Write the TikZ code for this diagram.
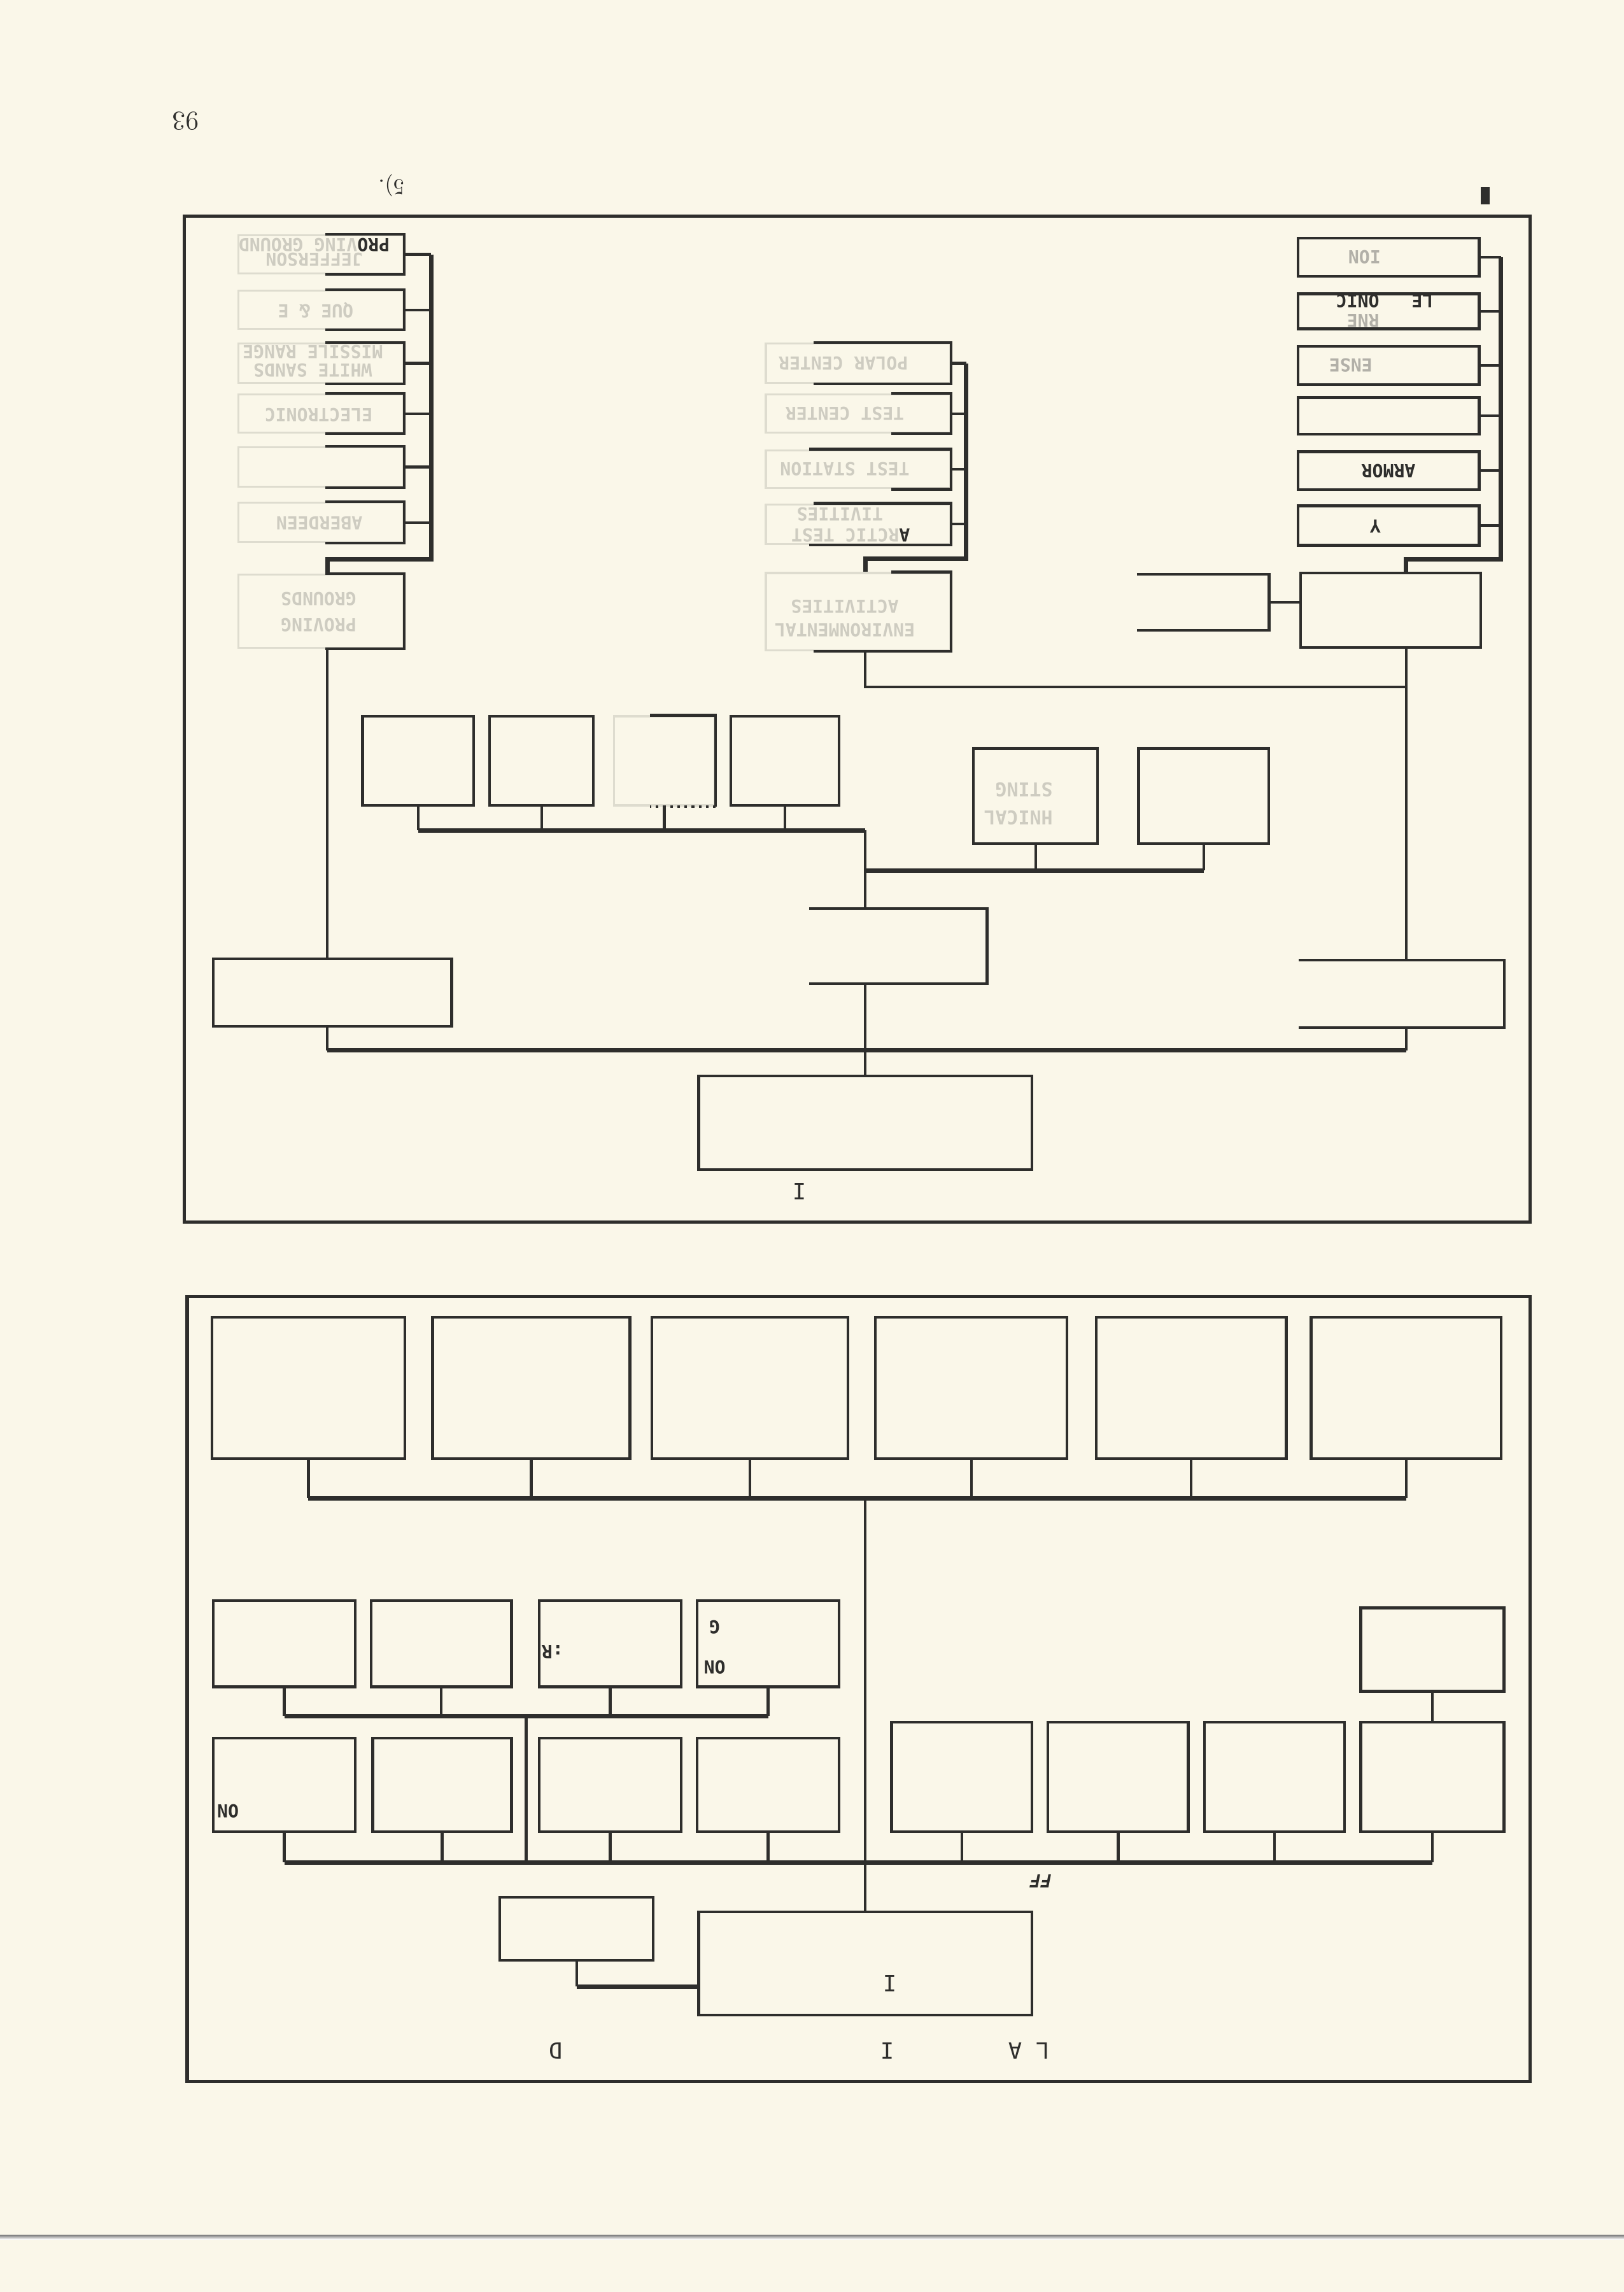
\documentclass[tikz,border=0pt]{standalone}
\usepackage{fontspec}
\setmonofont{DejaVu Sans Mono}
\usepackage{graphicx}
\usetikzlibrary{fit}

\definecolor{paper}{RGB}{250,247,233}
\definecolor{ink}{RGB}{46,46,44}
\definecolor{fade}{RGB}{206,204,193}
\definecolor{midfade}{RGB}{178,176,168}
\definecolor{ghostline}{RGB}{222,220,207}
\definecolor{shade}{RGB}{212,210,198}

\newcommand{\boxfont}{\fontsize{8}{9.6}\selectfont\ttfamily\bfseries}
\newcommand{\capfont}{\fontsize{10}{11}\selectfont\ttfamily}
\newcommand{\fa}[1]{\textcolor{fade}{#1}}
\newcommand{\fb}[1]{\textcolor{midfade}{#1}}
\newcommand{\ph}[1]{\phantom{#1}}

\begin{document}
\begin{tikzpicture}[
        x=0.022952cm, y=-0.022952cm,
        box/.style={draw=ink, line width=1.2pt, inner sep=0pt},
        ghost/.style={draw=ghostline, line width=0.9pt, inner sep=0pt},
        bare/.style={inner sep=0pt},
        edge/.style={draw=ink, line width=1.2pt},
        bus/.style={draw=ink, line width=2pt},
        frm/.style={draw=ink, line width=1.5pt},
        txt/.style={rotate=180, inner sep=0pt, align=center, text=ink, font=\boxfont},
    ]
        % Page (scanned upside down)
        \fill[paper] (0,0) rectangle (1111,1568);
        \useasboundingbox (0,0) rectangle (1111,1568);
        \fill[shade] (0,1529) rectangle (1111,1532);
        \node[txt, font=\fontsize{12}{12}\selectfont\rmfamily] (pagenum) at (127,83) {93};
        \node[txt, font=\fontsize{10}{10}\selectfont\rmfamily] (note) at (268,127) {5).};
        \fill[ink] (1013,128) rectangle (1019,140);

        % ---------------- upper chart ----------------
        \draw[frm] (126,148) rectangle (1047,836);

        % Proving grounds (left column)
        \node[ghost, fit={(163,161) (276,187)}] (L1) {};
        \node[ghost, fit={(163,199) (276,225)}] (L2) {};
        \node[ghost, fit={(163,235) (276,262)}] (L3) {};
        \node[ghost, fit={(163,270) (276,296)}] (L4) {};
        \node[ghost, fit={(163,306) (276,333)}] (L5) {};
        \node[ghost, fit={(163,344) (276,371)}] (L6) {};
        \node[ghost, fit={(163,393) (276,443)}] (L7) {};
        \foreach \n in {L1,L2,L3,L4,L5,L6,L7}
            \draw[edge] (\n.north east) ++(-54,0) -- ++(54,0) -- (\n.south east) -- ++(-54,0);

        \node[txt] (L1t) at (215,172.5) {\fa{JEFFERSON}\\[-3pt]PRO\fa{VING GROUND}};
        \node[txt] (L2t) at (216,212) {\fa{QUE \& E}};
        \node[txt] (L3t) at (214,247) {\fa{WHITE SANDS}\\[-1.2pt]\fa{MISSILE RANGE}};
        \node[txt] (L4t) at (218,284) {\fa{ELECTRONIC}};
        \node[txt] (L6t) at (218.5,358) {\fa{ABERDEEN}};
        \node[txt] (L7t) at (218,418.5) {\fa{PROVING}\\[2pt]\fa{GROUNDS}};

        % Test centers (middle column)
        \node[ghost, fit={(524,235) (650,262)}] (M1) {};
        \node[ghost, fit={(524,270) (650,296)}] (M2) {};
        \node[ghost, fit={(524,308) (650,334)}] (M3) {};
        \node[ghost, fit={(524,345) (650,372)}] (M4) {};
        \node[ghost, fit={(524,392) (650,445)}] (M5) {};
        \foreach \n/\topx/\botx in {M1/94/94, M2/41/41, M3/97/41, M4/94/97, M5/41/94}
            \draw[edge] (\n.north east) ++(-\topx,0) -- ++(\topx,0) -- (\n.south east) -- ++(-\botx,0);

        \node[txt] (M1t) at (577,248.5) {\fa{POLAR CENTER}};
        \node[txt] (M2t) at (578,283) {\fa{TEST CENTER}};
        \node[txt] (M3t) at (578,321) {\fa{TEST STATION}};
        \node[txt] (M4t) at (582,359) {A\fa{RCTIC TEST}\\[-0.2pt]\ph{AC}\fa{TIVITIES}};
        \node[txt] (M5t) at (578,423) {\fa{ENVIRONMENTAL}\\[1pt]\fa{ACTIVITIES}};

        % Boards (right column)
        \node[box, fit={(888,163) (1012,189)}] (R1) {};
        \node[box, fit={(888,201) (1012,225)}] (R2) {};
        \node[box, fit={(888,237) (1012,263)}] (R3) {};
        \node[box, fit={(888,272) (1012,297)}] (R4) {};
        \node[box, fit={(888,309) (1012,335)}] (R5) {};
        \node[box, fit={(888,346) (1012,373)}] (R6) {};
        \node[box, fit={(890,392) (1013,443)}] (R7) {};
        \node[bare, fit={(778,393) (868,431)}] (Q) {};
        \draw[edge] (Q.north west) -- (Q.north east) -- (Q.south east) -- (Q.south west);

        \node[txt] (R1t) at (952,176) {\ph{AVIAT}\fb{ION}};
        \node[txt] (R2t) at (951,212.5) {\ph{AIRBO}\fb{RNE}\\[-0.8pt]\ph{E}LE\ph{CTR}ONIC};
        \node[txt] (R3t) at (950,250) {\ph{AIR DEF}\fb{ENSE}};
        \node[txt] (R5t) at (950,322) {ARMOR};
        \node[txt] (R6t) at (952,360) {\ph{ARM}Y};

        % Second tier
        \node[box, fit={(248,490) (324,551)}] (T1) {};
        \node[box, fit={(335,490) (406,551)}] (T2) {};
        \node[ghost, fit={(420,490) (489,551)}] (T3) {};
        \draw[edge] (T3.north east) ++(-45,0) -- ++(45,0) -- (T3.south east);
        \draw[edge, dotted] (T3.south east) -- ++(-45,0);
        \node[box, fit={(500,490) (574,551)}] (T4) {};
        \node[box, fit={(666,512) (751,577)}] (T5) {};
        \node[box, fit={(779,512) (868,577)}] (T6) {};
        \node[txt, font=\fontsize{8.5}{12.5}\selectfont\ttfamily\bfseries] (T5t) at (708.5,550) {\ph{TEC}\fa{HNICAL}\\\ph{TE}\fa{STING}};

        \node[bare, fit={(554,622) (675,672.5)}] (C) {};
        \draw[edge] (C.north west) -- (C.north east) -- (C.south east) -- (C.south west);
        \node[box, fit={(146,656) (309,702)}] (LB) {};
        \node[bare, fit={(889,657) (1029,702.5)}] (RB) {};
        \draw[edge] (RB.north west) -- (RB.north east) -- (RB.south east) -- (RB.south west);
        \node[box, fit={(478,736) (706,800)}] (D) {};
        \node[txt, font=\capfont] (Dmark) at (547,815) {I};

        % Connectors, upper chart
        \coordinate (lbus) at (295,382.5);
        \coordinate (lstem) at (224,443);
        \coordinate (mbus) at (661,382);
        \coordinate (trunk) at (592,568);
        \coordinate (rbus) at (1027,382.5);
        \coordinate (rstem) at (962,443);
        \coordinate (mjoin) at (592,470);
        \coordinate (tjoin) at (592,595.5);
        \coordinate (bbus) at (592,718.6);

        \foreach \n in {L1,L2,L3,L4,L5,L6} \draw[edge] (\n.east) -- (\n.east -| lbus);
        \draw[bus] (L1.east -| lbus) -- (lbus) -- (lbus -| lstem) -- (lstem |- L7.north);
        \foreach \n in {M1,M2,M3,M4} \draw[edge] (\n.east) -- (\n.east -| mbus);
        \draw[bus] (M1.east -| mbus) -- (mbus) -- (mbus -| trunk) -- (trunk |- M5.north);
        \foreach \n in {R1,R2,R3,R4,R5,R6} \draw[edge] (\n.east) -- (\n.east -| rbus);
        \draw[bus] (R1.east -| rbus) -- (rbus) -- (rbus -| rstem) -- (rstem |- R7.north);
        \draw[edge] (Q.east) -- (Q.east -| R7.west);

        \draw[edge] (trunk |- M5.south) -- (mjoin) -- (mjoin -| rstem);
        \draw[edge] (lstem |- L7.south) -- (lstem |- LB.north);
        \draw[edge] (rstem |- R7.south) -- (rstem |- RB.north);

        \foreach \n in {T1,T2,T3,T4} \draw[edge] (\n.south) -- (\n.south |- trunk);
        \draw[bus] (T1.south |- trunk) -- (trunk);
        \draw[edge] (T5.south) -- (T5.south |- tjoin);
        \draw[edge] (T6.south) -- (T6.south |- tjoin);
        \draw[bus] (tjoin) -- (T6.south |- tjoin);
        \draw[edge] (trunk) -- (trunk |- C.north);

        \draw[edge] (lstem |- LB.south) -- (lstem |- bbus);
        \draw[edge] (rstem |- RB.south) -- (rstem |- bbus);
        \draw[bus] (lstem |- bbus) -- (rstem |- bbus);
        \draw[edge] (trunk |- C.south) -- (D.north);

        % ---------------- lower chart ----------------
        \draw[frm] (128,887) rectangle (1047,1424);

        \node[box, fit={(145,901) (277,998)}] (U1) {};
        \node[box, fit={(296,901) (431,998)}] (U2) {};
        \node[box, fit={(446,901) (580,998)}] (U3) {};
        \node[box, fit={(599,901) (730,998)}] (U4) {};
        \node[box, fit={(750,901) (880,998)}] (U5) {};
        \node[box, fit={(897,901) (1027,998)}] (U6) {};

        \node[box, fit={(146,1095) (243,1154)}] (A1) {};
        \node[box, fit={(254,1095) (350,1154)}] (A2) {};
        \node[box, fit={(369,1095) (466,1154)}] (A3) {};
        \node[box, fit={(477,1095) (574,1154)}] (A4) {};

        \node[box, fit={(146,1189) (243,1253)}] (B1) {};
        \node[box, fit={(255,1189) (350,1253)}] (B2) {};
        \node[box, fit={(369,1189) (466,1253)}] (B3) {};
        \node[box, fit={(477,1189) (574,1253)}] (B4) {};
        \node[box, fit={(610,1178) (706,1253)}] (B5) {};
        \node[box, fit={(717,1178) (813,1253)}] (B6) {};
        \node[box, fit={(824,1178) (920,1253)}] (B7) {};
        \node[box, fit={(931,1178) (1029,1253)}] (B8) {};
        \node[box, fit={(931,1100) (1029,1157)}] (X) {};

        \node[box, fit={(342,1298) (447,1341)}] (E) {};
        \node[box, fit={(478,1308) (706,1378.5)}] (D2) {};

        \node[txt] (A3t) at (378,1130) {:R};
        \node[txt] (A4t) at (489,1127) {ON\\[8.4pt]G};
        \node[txt] (B1t) at (156,1239) {ON};
        \node[txt, font=\boxfont\itshape] (FFt) at (712,1287) {FF};
        \node[txt, font=\capfont] (D2t) at (609,1357) {I};
        \node[txt, font=\capfont] (capD) at (380,1403) {D};
        \node[txt, font=\capfont] (capI) at (607,1403) {I};
        \node[txt, font=\capfont] (capAL) at (704,1403) {L A};

        % Connectors, lower chart
        \coordinate (ubus) at (592,1025);
        \coordinate (abus) at (360,1174);
        \coordinate (lowbus) at (592,1274);
        \coordinate (ejoin) at (394.5,1359);

        \foreach \n in {U1,U2,U3,U4,U5,U6} \draw[edge] (\n.south) -- (\n.south |- ubus);
        \draw[bus] (U1.south |- ubus) -- (U6.south |- ubus);
        \draw[edge] (ubus) -- (D2.north);

        \foreach \n in {A1,A2,A3,A4} \draw[edge] (\n.south) -- (\n.south |- abus);
        \draw[bus] (A1.south |- abus) -- (A4.south |- abus);
        \draw[edge] (abus) -- (abus |- lowbus);

        \foreach \n in {B1,B2,B3,B4,B5,B6,B7,B8} \draw[edge] (\n.south) -- (\n.south |- lowbus);
        \draw[bus] (B1.south |- lowbus) -- (B8.south |- lowbus);
        \draw[edge] (X.south) -- (B8.north);

        \draw[edge] (E.south) -- (ejoin);
        \draw[bus] (ejoin) -- (ejoin -| D2.west);
    \end{tikzpicture}
\end{document}
